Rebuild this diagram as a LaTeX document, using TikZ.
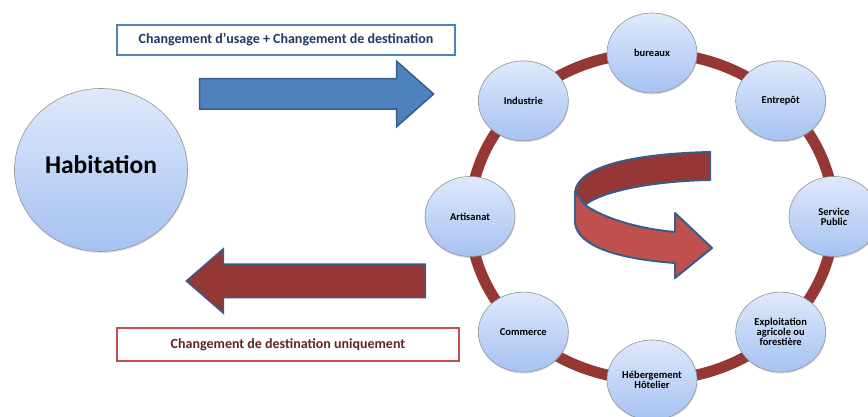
\documentclass[tikz,border=0pt]{standalone}
\usepackage{fontspec}
\setmainfont{Carlito}
\usetikzlibrary{shapes.geometric,shapes.arrows,shadows}
\definecolor{ringred}{HTML}{953735}
\definecolor{lightred}{HTML}{C0504D}
\definecolor{arrowblue}{HTML}{4F81BD}
\definecolor{edgeblue}{HTML}{385D8A}
\definecolor{bubbletop}{HTML}{DEE9FB}
\definecolor{bubblebot}{HTML}{A5C2F2}
\definecolor{navytext}{HTML}{1F3864}
\definecolor{winetext}{HTML}{632523}
\tikzset{
  bubble/.style={ellipse, draw=gray!85, line width=0.6pt, top color=bubbletop,
    bottom color=bubblebot, minimum width=90pt, minimum height=80pt, inner sep=0pt,
    align=center, font=\bfseries\fontsize{10.5}{10}\selectfont,
    drop shadow={opacity=0.25, shadow xshift=0.5pt, shadow yshift=-1.5pt}},
  labelbox/.style={draw, line width=2.5pt, fill=white, inner sep=0pt,
    font=\bfseries\fontsize{14}{16}\selectfont},
  blockarrow/.style={single arrow, draw=edgeblue, line width=1.5pt, inner sep=0pt}
}
\begin{document}
\begin{tikzpicture}[x=1pt,y=1pt]
  \useasboundingbox (0,0) rectangle (868,417);
  \node[bubble, minimum width=173pt, minimum height=163pt, text depth=10pt,
    font=\bfseries\fontsize{25.5}{28}\selectfont] (habitation) at (101,247) {Habitation};
  \node[labelbox, draw=arrowblue, text=navytext, minimum width=338pt, minimum height=30pt]
    (usage) at (286,377) {Changement d’usage + Changement de destination};
  \node[labelbox, draw=lightred, text=winetext, minimum width=342pt, minimum height=33pt]
    (destination) at (288,72.5) {Changement de destination uniquement};
  \node[blockarrow, fill=arrowblue, minimum height=234pt, minimum width=64pt,
    inner ysep=14.5pt, single arrow head extend=17.5pt, single arrow tip angle=83]
    (aller) at (308,323) {};
  \node[blockarrow, fill=ringred, shape border rotate=180, minimum height=239pt,
    minimum width=63pt, inner ysep=16pt, single arrow head extend=15.5pt,
    single arrow tip angle=82] (retour) at (315.5,136) {};
  \draw[ringred, line width=11pt] (652,200.5) ellipse [x radius=182, y radius=163.5];
  \path[shift={(652,200.5)}]
    (90:182 and 163.5) node[bubble] (bureaux) {bureaux}
    (45:182 and 163.5) node[bubble] (entrepot) {Entrepôt}
    (0:182 and 163.5) node[bubble] (service) {Service\\Public}
    (-45:182 and 163.5) node[bubble] (exploitation) {Exploitation\\agricole ou\\forestière}
    (-90:182 and 163.5) node[bubble] (hebergement) {Hébergement\\Hôtelier}
    (-135:182 and 163.5) node[bubble] (commerce) {Commerce}
    (180:182 and 163.5) node[bubble] (artisanat) {Artisanat}
    (135:182 and 163.5) node[bubble] (industrie) {Industrie};
  \begin{scope}[draw=edgeblue, line width=2pt, line join=round]
    \draw[fill=ringred] (575,225) .. controls (578,250) and (630,263) .. (710,265)
      -- (710,237) .. controls (650,236) and (600,225) .. (585,212) -- cycle;
    \draw[fill=lightred] (575,225) -- (585,212) .. controls (605,198) and (640,188) .. (675,185)
      -- (675,204) -- (712,169) -- (675,139) -- (675,154)
      .. controls (620,158) and (578,170) .. (575,194) -- cycle;
  \end{scope}
\end{tikzpicture}
\end{document}
